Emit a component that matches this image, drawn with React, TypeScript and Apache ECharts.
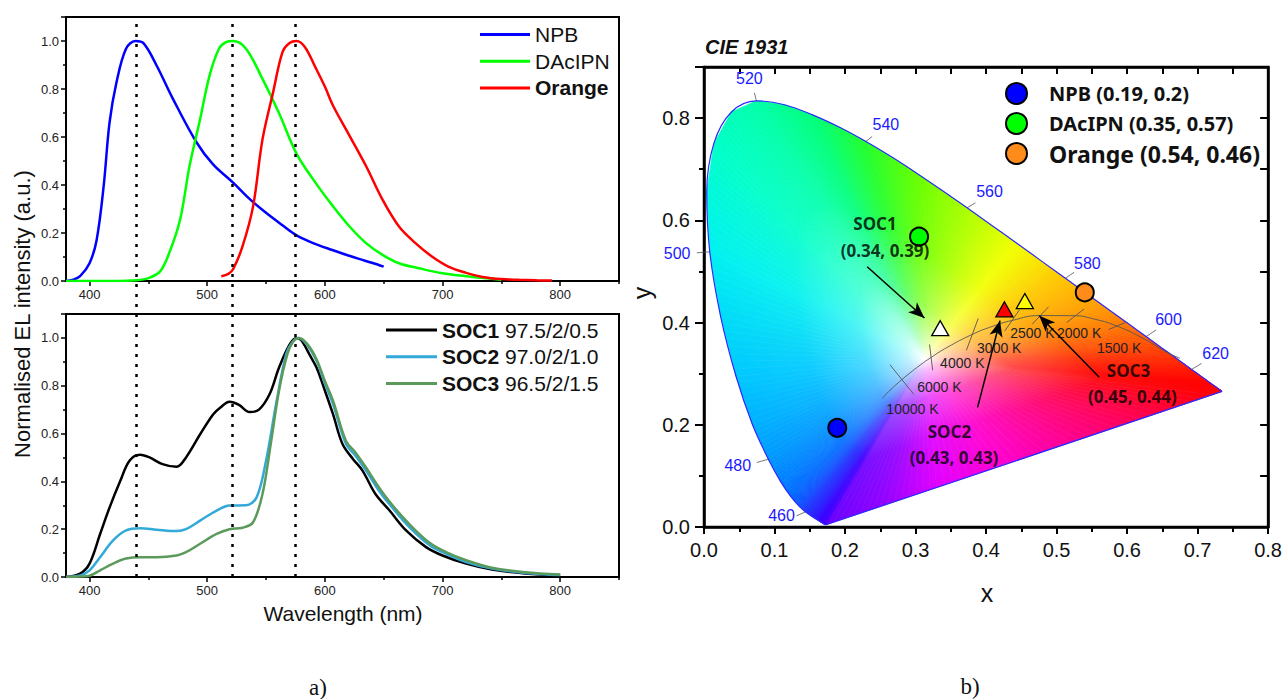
import React, { useEffect, useRef } from 'react';
import * as echarts from 'echarts';

// ================= Panel a) : normalised EL spectra =================
const xMajorTicks = [400, 500, 600, 700, 800];
const xMinorTicks = [450, 550, 650, 750, 850];

const npbWl = [380, 386, 392, 400, 406, 412, 417, 423, 431, 439, 446, 457, 471, 491, 505, 522, 536, 550, 564, 576, 590, 607, 620, 629, 640, 650];
const npbVal = [0, 0.005, 0.02, 0.074, 0.17, 0.395, 0.66, 0.83, 0.968, 1.0, 0.99, 0.898, 0.758, 0.577, 0.486, 0.41, 0.342, 0.284, 0.232, 0.19, 0.158, 0.128, 0.106, 0.092, 0.076, 0.06];

const dacWl = [380, 420, 440, 450, 460, 468, 477, 485, 494, 502, 510, 516, 522, 533, 547, 561, 576, 592, 607, 621, 635, 649, 663, 680, 700, 720, 740, 750];
const dacVal = [0, 0, 0.003, 0.012, 0.04, 0.12, 0.256, 0.479, 0.675, 0.856, 0.968, 0.995, 1.0, 0.968, 0.842, 0.7, 0.53, 0.41, 0.311, 0.227, 0.158, 0.109, 0.074, 0.053, 0.032, 0.02, 0.01, 0.005];

const orangeWl = [512, 518, 522, 530, 539, 547, 556, 564, 570, 576, 583, 592, 600, 607, 621, 635, 649, 663, 677, 691, 705, 720, 734, 750, 765, 780, 793];
const orangeVal = [0.02, 0.03, 0.049, 0.144, 0.311, 0.59, 0.786, 0.954, 0.992, 1.0, 0.975, 0.89, 0.81, 0.73, 0.605, 0.479, 0.339, 0.227, 0.158, 0.102, 0.06, 0.034, 0.017, 0.008, 0.005, 0.003, 0.002];

const soc1Wl = [380, 392, 400, 409, 417, 426, 434, 443, 451, 462, 474, 482, 494, 505, 511, 519, 527, 536, 544, 553, 561, 570, 576, 580, 587, 593, 600, 607, 615, 624, 632, 643, 655, 669, 686, 700, 720, 742, 770, 800];
const soc1Val = [0, 0.014, 0.056, 0.18, 0.29, 0.4, 0.486, 0.511, 0.5, 0.472, 0.461, 0.5, 0.597, 0.68, 0.708, 0.733, 0.72, 0.69, 0.7, 0.764, 0.875, 0.972, 1.0, 0.99, 0.93, 0.875, 0.78, 0.68, 0.556, 0.493, 0.445, 0.347, 0.278, 0.195, 0.125, 0.09, 0.056, 0.031, 0.015, 0.007];

const soc2Wl = [380, 392, 400, 409, 420, 431, 443, 457, 474, 482, 494, 508, 519, 533, 542, 550, 559, 567, 572, 578, 585, 593, 600, 607, 618, 626, 635, 646, 657, 672, 689, 703, 720, 742, 770, 800];
const soc2Val = [0, 0.006, 0.028, 0.083, 0.153, 0.195, 0.204, 0.198, 0.192, 0.2, 0.236, 0.278, 0.299, 0.3, 0.333, 0.486, 0.736, 0.93, 0.98, 1.0, 0.97, 0.903, 0.81, 0.722, 0.556, 0.507, 0.445, 0.361, 0.292, 0.208, 0.133, 0.097, 0.063, 0.035, 0.017, 0.008];

const soc3Wl = [380, 392, 400, 409, 420, 431, 443, 457, 474, 482, 494, 508, 519, 530, 539, 547, 554, 561, 568, 573, 578, 585, 593, 600, 607, 618, 626, 635, 646, 657, 672, 689, 703, 720, 742, 770, 800];
const soc3Val = [0, 0.002, 0.005, 0.028, 0.056, 0.077, 0.083, 0.083, 0.09, 0.104, 0.139, 0.18, 0.2, 0.206, 0.229, 0.347, 0.556, 0.778, 0.93, 0.985, 1.0, 0.975, 0.91, 0.82, 0.736, 0.569, 0.521, 0.458, 0.375, 0.303, 0.22, 0.143, 0.104, 0.07, 0.039, 0.02, 0.01];

const peakMarkersWl = [440, 521, 575];

// ================= Panel b) : CIE 1931 =================
const locusWl = [380, 385, 390, 395, 400, 405, 410, 415, 420, 425, 430, 435, 440, 445, 450, 455, 460, 465, 470, 475, 480, 485, 490, 495, 500, 505, 510, 515, 520, 525, 530, 535, 540, 545, 550, 555, 560, 565, 570, 575, 580, 585, 590, 595, 600, 605, 610, 615, 620, 625, 630, 635, 640, 645, 650, 655, 660, 665, 670, 675, 680, 685, 690, 695, 700];
const locusX = [0.1741, 0.1740, 0.1738, 0.1736, 0.1733, 0.1730, 0.1726, 0.1721, 0.1714, 0.1703, 0.1689, 0.1669, 0.1644, 0.1611, 0.1566, 0.1510, 0.1440, 0.1355, 0.1241, 0.1096, 0.0913, 0.0687, 0.0454, 0.0235, 0.0082, 0.0039, 0.0139, 0.0389, 0.0743, 0.1142, 0.1547, 0.1929, 0.2296, 0.2658, 0.3016, 0.3373, 0.3731, 0.4087, 0.4441, 0.4788, 0.5125, 0.5448, 0.5752, 0.6029, 0.6270, 0.6482, 0.6658, 0.6801, 0.6915, 0.7006, 0.7079, 0.7140, 0.7190, 0.7230, 0.7260, 0.7283, 0.7300, 0.7311, 0.7320, 0.7327, 0.7334, 0.7340, 0.7344, 0.7346, 0.7347];
const locusY = [0.0050, 0.0050, 0.0049, 0.0049, 0.0048, 0.0048, 0.0048, 0.0048, 0.0051, 0.0058, 0.0069, 0.0086, 0.0109, 0.0138, 0.0177, 0.0227, 0.0297, 0.0399, 0.0578, 0.0868, 0.1327, 0.2007, 0.2950, 0.4127, 0.5384, 0.6548, 0.7502, 0.8120, 0.8338, 0.8262, 0.8059, 0.7816, 0.7543, 0.7243, 0.6923, 0.6589, 0.6245, 0.5896, 0.5547, 0.5202, 0.4866, 0.4544, 0.4242, 0.3965, 0.3725, 0.3514, 0.3340, 0.3197, 0.3083, 0.2993, 0.2920, 0.2859, 0.2809, 0.2770, 0.2740, 0.2717, 0.2700, 0.2689, 0.2680, 0.2673, 0.2666, 0.2660, 0.2656, 0.2654, 0.2653];
const purpleX = [0.62, 0.52, 0.42, 0.33, 0.25];
const purpleY = [0.2120, 0.1656, 0.1192, 0.0774, 0.0402];

const planckT = [25000, 15000, 10000, 8000, 7000, 6000, 5000, 4000, 3500, 3000, 2500, 2000, 1800, 1500, 1200, 1000, 800];
const planckX = [0.2530, 0.2637, 0.2807, 0.2952, 0.3064, 0.3221, 0.3451, 0.3805, 0.4053, 0.4369, 0.4770, 0.5267, 0.5497, 0.5857, 0.6251, 0.6528, 0.675];
const planckY = [0.2520, 0.2674, 0.2884, 0.3048, 0.3166, 0.3318, 0.3516, 0.3768, 0.3907, 0.4041, 0.4137, 0.4133, 0.4081, 0.3931, 0.3674, 0.3444, 0.330];
const isothermT = [10000, 6000, 4000, 3000, 2500, 2000, 1500];
const wavelengthLabels = [460, 480, 500, 520, 540, 560, 580, 600, 620];

const emitterNames = ['NPB', 'DAcIPN', 'Orange'];
const emitterX = [0.189, 0.305, 0.54];
const emitterY = [0.194, 0.568, 0.459];
const emitterLabelX = [0.19, 0.35, 0.54];
const emitterLabelY = [0.2, 0.57, 0.46];

const socNames = ['SOC1', 'SOC2', 'SOC3'];
const socRatios = ['97.5/2/0.5', '97.0/2/1.0', '96.5/2/1.5'];
const socX = [0.335, 0.426, 0.455];
const socY = [0.389, 0.426, 0.442];
const socLabelX = [0.34, 0.43, 0.45];
const socLabelY = [0.39, 0.43, 0.44];

// ================= styles / layout =================
const FONT = 'Liberation Sans, Arial, sans-serif';
const BOLDFONT = 'Noto Sans, DejaVu Sans, sans-serif';
const spectraColors: Record<string, string> = { NPB: '#0000ff', DAcIPN: '#00ff00', Orange: '#ff0000', SOC1: '#000000', SOC2: '#33a9d8', SOC3: '#5c9a5c' };
const emitterColors = ['#0000ff', '#00ff00', '#ff8c1a'];
const socColors = ['#ffffff', '#ff0000', '#ffff00'];
const spectralKeys: [number, string][] = [
  [380, '#6a00ff'], [440, '#3a00ff'], [460, '#1c30ff'], [470, '#0066ff'], [480, '#0098ff'], [490, '#00c8ff'],
  [500, '#00f0f0'], [510, '#00ffc8'], [520, '#00ffa8'], [530, '#00ff78'], [540, '#22ff2a'], [550, '#66ff00'],
  [560, '#aaff00'], [570, '#f2ff00'], [580, '#ffc400'], [590, '#ff9400'], [600, '#ff5c00'], [610, '#ff3000'],
  [620, '#ff1800'], [640, '#ff0000'], [700, '#ff0000'],
];
const purpleColors = ['#ff0050', '#ff0090', '#ff00d0', '#e000ff', '#9000ff'];
const WHITE = [0.3127, 0.329];
const FAN_SUBDIV = 8;
const wlLabelLayout: Record<number, { tick: number[]; text: number[] }> = {
  460: { tick: [-9, 4], text: [-15, 0] },
  480: { tick: [-11.6, 3.3], text: [-19, 3.4] },
  500: { tick: [-13, 1], text: [-19.7, 0.8] },
  520: { tick: [-2, -8], text: [-5, -14] },
  540: { tick: [6.3, -5], text: [13.7, -12.3] },
  560: { tick: [8.4, -5], text: [14, -11] },
  580: { tick: [8.7, -6], text: [13.3, -9] },
  600: { tick: [10, -6.7], text: [12.4, -10.7] },
  620: { tick: [10, -6], text: [14, -10] },
};
const isoLayout: Record<number, { dir: number[]; half: number; text: number[] }> = {
  10000: { dir: [0.63, 0.78], half: 19, text: [10.5, 29] },
  6000: { dir: [0.12, 0.99], half: 13, text: [8.3, 30] },
  4000: { dir: [0.35, -0.94], half: 17, text: [-10, 29] },
  3000: { dir: [0.57, -0.82], half: 13, text: [-12.8, 27.5] },
  2500: { dir: [0.69, -0.73], half: 12, text: [-8, 17.8] },
  2000: { dir: [0.79, -0.61], half: 11, text: [3.8, 17.6] },
  1500: { dir: [0.92, -0.39], half: 9, text: [2.2, 21.6] },
};
// annotation text anchors and arrows (data coordinates)
const annotLayout = [
  { title: [0.2425, 0.594], value: [0.2567, 0.5419], from: [0.2314, 0.5093], to: [0.3126, 0.409] },
  { title: [0.348, 0.1873], value: [0.3546, 0.1365], from: [0.388, 0.234], to: [0.4198, 0.4037] },
  { title: [0.602, 0.306], value: [0.6076, 0.2551], from: [0.5605, 0.2929], to: [0.4755, 0.4135] },
];

// ---------- helpers ----------
function hexToRgb(h: string) {
  const n = parseInt(h.slice(1), 16);
  return [(n >> 16) & 255, (n >> 8) & 255, n & 255];
}
function rgbToHex(c: number[]) {
  return '#' + c.map((v) => Math.max(0, Math.min(255, Math.round(v))).toString(16).padStart(2, '0')).join('');
}
function mix(a: string, b: string, t: number) {
  const A = hexToRgb(a), B = hexToRgb(b);
  return rgbToHex(A.map((v, i) => v + (B[i] - v) * t));
}
function spectralColor(w: number) {
  for (let i = 0; i < spectralKeys.length - 1; i++) {
    const [w0, c0] = spectralKeys[i];
    const [w1, c1] = spectralKeys[i + 1];
    if (w >= w0 && w <= w1) return mix(c0, c1, (w - w0) / (w1 - w0));
  }
  return spectralKeys[spectralKeys.length - 1][1];
}
const zip = (a: number[], b: number[]) => a.map((v, i) => [v, b[i]]);

const boundary = [
  ...locusWl.map((w, i) => ({ x: locusX[i], y: locusY[i], color: spectralColor(w) })),
  ...purpleX.map((x, i) => ({ x, y: purpleY[i], color: purpleColors[i] })),
];

function fanGradient(w: number[], r: number, c: string) {
  return {
    type: 'radial', x: w[0], y: w[1], r, global: true,
    colorStops: [
      { offset: 0, color: '#ffffff' },
      { offset: 0.08, color: mix(c, '#ffffff', 0.75) },
      { offset: 0.3, color: mix(c, '#ffffff', 0.3) },
      { offset: 0.6, color: mix(c, '#ffffff', 0.06) },
      { offset: 1, color: c },
    ],
  };
}

function buildOption() {
  const lineSeries = (name: string, wl: number[], val: number[], xi: number, yi: number) => ({
    type: 'line', name, xAxisIndex: xi, yAxisIndex: yi, data: zip(wl, val), symbol: 'none', smooth: 0.35,
    lineStyle: { color: spectraColors[name], width: 2.5 }, itemStyle: { color: spectraColors[name] }, z: 2,
  });

  const leftX = (gridIndex: number) => [
    {
      type: 'value', gridIndex, min: 380, max: 850, position: 'bottom',
      axisLine: { onZero: false, lineStyle: { color: '#000', width: 2 } },
      axisTick: { customValues: xMajorTicks, length: 5, lineStyle: { color: '#000', width: 1.5 } },
      axisLabel: { customValues: xMajorTicks, fontSize: 13, color: '#222', margin: 7, fontFamily: FONT },
      splitLine: { show: false },
    },
    {
      type: 'value', gridIndex, min: 380, max: 850, position: 'bottom',
      axisLine: { show: false },
      axisTick: { customValues: xMinorTicks, length: 3, lineStyle: { color: '#000', width: 1.5 } },
      axisLabel: { show: false }, splitLine: { show: false },
    },
  ];
  const leftY = (gridIndex: number) => ({
    type: 'value', gridIndex, min: 0, max: 1.1, interval: 0.2,
    axisLine: { show: true, onZero: false, lineStyle: { color: '#000', width: 2 } },
    axisTick: { show: true, length: 5, lineStyle: { color: '#000', width: 1.5 } },
    minorTick: { show: true, splitNumber: 2, length: 3, lineStyle: { color: '#000', width: 1.5 } },
    axisLabel: { formatter: (v: number) => v.toFixed(1), fontSize: 13, color: '#222', margin: 7, fontFamily: FONT, showMaxLabel: false },
    splitLine: { show: false }, minorSplitLine: { show: false },
  });

  const fanSeries = {
    type: 'custom', name: 'fan', xAxisIndex: 5, yAxisIndex: 3, silent: true, z: 1,
    data: boundary.map((b, i) => [b.x, b.y, i]),
    renderItem: (params: any, api: any) => {
      const i = api.value(2);
      const a = boundary[i];
      const b = boundary[(i + 1) % boundary.length];
      const w = api.coord(WHITE);
      const children: any[] = [];
      for (let s = 0; s < FAN_SUBDIV; s++) {
        const t0 = s / FAN_SUBDIV, t1 = (s + 1) / FAN_SUBDIV;
        const p0 = api.coord([a.x + (b.x - a.x) * t0, a.y + (b.y - a.y) * t0]);
        const p1 = api.coord([a.x + (b.x - a.x) * t1, a.y + (b.y - a.y) * t1]);
        const c = mix(a.color, b.color, (t0 + t1) / 2);
        const r = Math.max(Math.hypot(p0[0] - w[0], p0[1] - w[1]), Math.hypot(p1[0] - w[0], p1[1] - w[1]), 1);
        const g = fanGradient(w, r, c);
        children.push({ type: 'polygon', shape: { points: [w, p0, p1] }, style: { fill: g, stroke: g, lineWidth: 0.7 } });
      }
      return { type: 'group', children };
    },
  };

  const outlineSeries = {
    type: 'line', name: 'locus', xAxisIndex: 5, yAxisIndex: 3, silent: true, z: 3, symbol: 'none', smooth: 0.35,
    data: zip(locusX, locusY),
    lineStyle: { color: '#2a2aff', width: 1.2 },
  };
  const purpleLineSeries = {
    type: 'line', name: 'purples', xAxisIndex: 5, yAxisIndex: 3, silent: true, z: 3, symbol: 'none',
    data: [[locusX[locusX.length - 1], locusY[locusY.length - 1]], [locusX[0], locusY[0]]],
    lineStyle: { color: '#2a2aff', width: 1.2 },
  };
  const planckSeries = {
    type: 'line', name: 'planck', xAxisIndex: 5, yAxisIndex: 3, silent: true, z: 3, symbol: 'none', smooth: true,
    data: zip(planckX, planckY), lineStyle: { color: '#555', width: 0.9 },
  };
  const isoSeries = {
    type: 'custom', name: 'iso', xAxisIndex: 5, yAxisIndex: 3, silent: true, z: 3,
    data: isothermT.map((t) => { const k = planckT.indexOf(t); return [planckX[k], planckY[k], t]; }),
    renderItem: (params: any, api: any) => {
      const p = api.coord([api.value(0), api.value(1)]);
      const t = api.value(2);
      const L = isoLayout[t];
      return {
        type: 'group', children: [
          { type: 'line', shape: { x1: p[0] - L.dir[0] * L.half, y1: p[1] - L.dir[1] * L.half, x2: p[0] + L.dir[0] * L.half, y2: p[1] + L.dir[1] * L.half }, style: { stroke: '#555', lineWidth: 0.9 } },
          { type: 'text', x: p[0] + L.text[0], y: p[1] + L.text[1], style: { text: `${t} K`, fill: '#222', fontSize: 14, fontFamily: FONT, align: 'center', verticalAlign: 'middle' } },
        ],
      };
    },
  };
  const wlSeries = {
    type: 'custom', name: 'wl', xAxisIndex: 5, yAxisIndex: 3, silent: true, z: 3,
    data: wavelengthLabels.map((w) => { const k = locusWl.indexOf(w); return [locusX[k], locusY[k], w]; }),
    renderItem: (params: any, api: any) => {
      const p = api.coord([api.value(0), api.value(1)]);
      const w = api.value(2);
      const L = wlLabelLayout[w];
      const e = [p[0] + L.tick[0], p[1] + L.tick[1]];
      return {
        type: 'group', children: [
          { type: 'line', shape: { x1: p[0], y1: p[1], x2: e[0], y2: e[1] }, style: { stroke: '#555', lineWidth: 0.8 } },
          { type: 'text', x: e[0] + L.text[0], y: e[1] + L.text[1], style: { text: String(w), fill: '#1a1aff', fontSize: 16, fontFamily: FONT, align: 'center', verticalAlign: 'middle' } },
        ],
      };
    },
  };
  const emitterSeries = emitterNames.map((n, i) => ({
    type: 'scatter', name: `${n} (${emitterLabelX[i]}, ${emitterLabelY[i]})`, xAxisIndex: 5, yAxisIndex: 3, z: 5,
    symbol: 'circle', symbolSize: 18, data: [[emitterX[i], emitterY[i]]],
    itemStyle: { color: emitterColors[i], borderColor: '#000', borderWidth: 2, opacity: 1 },
    silent: true,
  }));
  const socSeries = {
    type: 'scatter', name: 'SOC points', xAxisIndex: 5, yAxisIndex: 3, z: 5, symbol: 'triangle', symbolSize: [17, 15], silent: true,
    data: socX.map((x, i) => ({ value: [x, socY[i]], itemStyle: { color: socColors[i] } })),
    itemStyle: { borderColor: '#000', borderWidth: 1.3, opacity: 1 },
  };
  const annotItems: any[] = [];
  annotLayout.forEach((a, i) => {
    annotItems.push({ value: a.title, label: { formatter: socNames[i] } });
    annotItems.push({ value: a.value, label: { formatter: `(${socLabelX[i]}, ${socLabelY[i]})` } });
  });
  const annotSeries = {
    type: 'scatter', name: 'annot', xAxisIndex: 5, yAxisIndex: 3, z: 6, symbolSize: 0, silent: true,
    data: annotItems,
    label: { show: true, position: 'inside', color: '#000', fontSize: 17, fontWeight: 'bold', fontFamily: BOLDFONT },
    markLine: {
      silent: true, symbol: ['none', 'arrow'], symbolSize: [10, 16], animation: false,
      lineStyle: { color: '#000', width: 1.5, type: 'solid' }, label: { show: false },
      data: annotLayout.map((a) => [{ coord: a.from }, { coord: a.to }]),
    },
  };

  return {
    animation: false,
    backgroundColor: '#ffffff',
    grid: [
      { left: 66, top: 17, width: 553, height: 264, show: true, borderColor: '#000', borderWidth: 2, backgroundColor: 'transparent' },
      { left: 66, top: 314, width: 553, height: 263, show: true, borderColor: '#000', borderWidth: 2, backgroundColor: 'transparent' },
      { left: 66, top: 17, width: 553, height: 560 },
      { left: 704, top: 67, width: 566, height: 460, show: true, borderColor: '#000', borderWidth: 2.5, backgroundColor: 'transparent' },
    ],
    xAxis: [
      ...leftX(0),
      ...leftX(1),
      { type: 'value', gridIndex: 2, min: 380, max: 850, show: false },
      {
        type: 'value', gridIndex: 3, min: 0, max: 0.8, interval: 0.1, position: 'bottom',
        axisLine: { onZero: false, lineStyle: { color: '#000', width: 2.5 } },
        axisTick: { length: 7, lineStyle: { color: '#000', width: 2 } },
        minorTick: { show: true, splitNumber: 2, length: 5, lineStyle: { color: '#000', width: 2 } },
        axisLabel: { formatter: (v: number) => v.toFixed(1), fontSize: 20, color: '#111', margin: 13, fontFamily: FONT },
        splitLine: { show: false }, minorSplitLine: { show: false },
      },
      {
        type: 'value', gridIndex: 3, min: 0, max: 0.8, interval: 0.05, position: 'top',
        axisLine: { onZero: false, lineStyle: { color: '#000', width: 2.5 } },
        axisTick: { inside: true, length: 7, lineStyle: { color: '#000', width: 2 } },
        axisLabel: { show: false }, splitLine: { show: false },
      },
    ],
    yAxis: [
      leftY(0),
      leftY(1),
      { type: 'value', gridIndex: 2, min: 0, max: 1, show: false },
      {
        type: 'value', gridIndex: 3, min: 0, max: 0.9, interval: 0.2, position: 'left',
        axisLine: { show: true, onZero: false, lineStyle: { color: '#000', width: 2.5 } },
        axisTick: { show: true, length: 9, lineStyle: { color: '#000', width: 2 } },
        minorTick: { show: true, splitNumber: 2, length: 5, lineStyle: { color: '#000', width: 2 } },
        axisLabel: { formatter: (v: number) => v.toFixed(1), fontSize: 20, color: '#111', margin: 14, fontFamily: FONT, showMaxLabel: false },
        splitLine: { show: false }, minorSplitLine: { show: false },
      },
      {
        type: 'value', gridIndex: 3, min: 0, max: 0.9, interval: 0.1, position: 'right',
        axisLine: { show: true, onZero: false, lineStyle: { color: '#000', width: 2.5 } },
        axisTick: { show: true, inside: true, length: 8, lineStyle: { color: '#000', width: 2 } },
        axisLabel: { show: false }, splitLine: { show: false },
      },
    ],
    legend: [
      {
        data: ['NPB', 'DAcIPN', 'Orange'], orient: 'vertical', left: 480, top: 24, padding: 0, itemWidth: 50, itemHeight: 3, itemGap: 5.7,
        icon: 'rect', selectedMode: false,
        formatter: (n: string) => (n === 'Orange' ? `{b|${n}}` : n),
        textStyle: { fontSize: 21, color: '#111', fontFamily: FONT, rich: { b: { fontSize: 21, fontWeight: 'bold', color: '#111', fontFamily: FONT } } },
      },
      {
        data: socNames, orient: 'vertical', left: 386, top: 319.5, padding: 0, itemWidth: 51, itemHeight: 3, itemGap: 5.7,
        icon: 'rect', selectedMode: false,
        formatter: (n: string) => `{b|${n}} ${socRatios[socNames.indexOf(n)]}`,
        textStyle: { fontSize: 21, color: '#111', fontFamily: FONT, rich: { b: { fontSize: 21, fontWeight: 'bold', color: '#111', fontFamily: FONT } } },
      },
      {
        data: emitterSeries.map((s) => s.name), orient: 'vertical', left: 1005, top: 82, padding: 0, itemWidth: 21, itemHeight: 21, itemGap: 7,
        selectedMode: false, icon: 'circle',
        formatter: (n: string) => (n.startsWith('Orange') ? `{o|${n}}` : `{t|${n}}`),
        textStyle: {
          rich: {
            t: { fontSize: 20, lineHeight: 22, fontWeight: 'bold', color: '#111', fontFamily: BOLDFONT, padding: [0, 0, 0, 17] },
            o: { fontSize: 23, lineHeight: 24, fontWeight: 'bold', color: '#111', fontFamily: BOLDFONT, padding: [0, 0, 0, 17] },
          },
        },
      },
    ],
    graphic: [
      { type: 'text', x: 22, y: 314, rotation: Math.PI / 2, style: { text: 'Normalised EL intensity (a.u.)', fontSize: 22, fontFamily: FONT, fill: '#111', align: 'center', verticalAlign: 'middle' } },
      { type: 'text', x: 343, y: 613, style: { text: 'Wavelength (nm)', fontSize: 21, fontFamily: FONT, fill: '#111', align: 'center', verticalAlign: 'middle' } },
      { type: 'text', x: 987, y: 593, style: { text: 'x', fontSize: 25, fontFamily: FONT, fill: '#111', align: 'center', verticalAlign: 'middle' } },
      { type: 'text', x: 642, y: 293, rotation: Math.PI / 2, style: { text: 'y', fontSize: 25, fontFamily: FONT, fill: '#111', align: 'center', verticalAlign: 'middle' } },
      { type: 'text', x: 705, y: 47, style: { text: 'CIE 1931', fontSize: 20, fontWeight: 'bold', fontStyle: 'italic', fontFamily: FONT, fill: '#111', align: 'left', verticalAlign: 'middle' } },
      { type: 'text', x: 318, y: 687, style: { text: 'a)', fontSize: 23, fontFamily: 'Liberation Serif, Times New Roman, serif', fill: '#111', align: 'center', verticalAlign: 'middle' } },
      { type: 'text', x: 970, y: 686, style: { text: 'b)', fontSize: 23, fontFamily: 'Liberation Serif, Times New Roman, serif', fill: '#111', align: 'center', verticalAlign: 'middle' } },
    ],
    series: [
      lineSeries('NPB', npbWl, npbVal, 0, 0),
      lineSeries('DAcIPN', dacWl, dacVal, 0, 0),
      lineSeries('Orange', orangeWl, orangeVal, 0, 0),
      lineSeries('SOC1', soc1Wl, soc1Val, 2, 1),
      lineSeries('SOC2', soc2Wl, soc2Val, 2, 1),
      lineSeries('SOC3', soc3Wl, soc3Val, 2, 1),
      {
        type: 'line', name: 'peaks', xAxisIndex: 4, yAxisIndex: 2, data: [], symbol: 'none', z: 10, silent: true,
        markLine: {
          silent: true, symbol: ['none', 'none'], animation: false, label: { show: false },
          lineStyle: { color: '#000', type: [3, 7], width: 2.5 },
          data: peakMarkersWl.map((v) => ({ xAxis: v })),
        },
      },
      fanSeries,
      outlineSeries,
      purpleLineSeries,
      planckSeries,
      isoSeries,
      wlSeries,
      ...emitterSeries,
      socSeries,
      annotSeries,
    ],
  };
}

export default function App() {
  const ref = useRef<HTMLDivElement>(null);
  useEffect(() => {
    if (!ref.current) return;
    const chart = echarts.init(ref.current, null, { renderer: 'svg' });
    chart.setOption(buildOption() as any);
    return () => chart.dispose();
  }, []);
  return <div ref={ref} style={{ position: 'absolute', left: 0, top: 0, width: 1285, height: 699 }} />;
}
